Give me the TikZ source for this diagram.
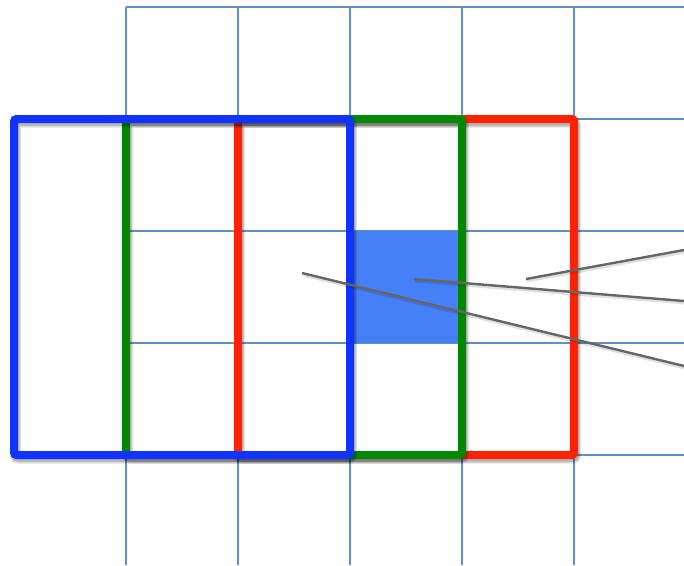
\documentclass[tikz,border=0pt]{standalone}
\usetikzlibrary{calc}
\definecolor{gridblue}{HTML}{5F8FC6}
\definecolor{boxblue}{HTML}{1133FF}
\definecolor{boxgreen}{HTML}{008800}
\definecolor{boxred}{HTML}{FF2200}
\definecolor{cellblue}{HTML}{4680F8}
\definecolor{linegray}{HTML}{666666}
\begin{document}
\begin{tikzpicture}[x=1pt,y=-1pt,
  gridline/.style={draw=gridblue, line width=2pt},
  frame/.style={rectangle, inner sep=0pt, outer sep=0pt, minimum width=336pt, minimum height=336pt, line width=8pt, rounded corners=2.5pt,
    preaction={draw=black, draw opacity=0.12, line width=11pt, transform canvas={xshift=1.5pt,yshift=-3pt}},
    preaction={draw=black, draw opacity=0.18, line width=8pt, transform canvas={xshift=1.5pt,yshift=-3pt}}},
  cellbox/.style={rectangle, inner sep=0pt, outer sep=0pt, minimum width=112pt, minimum height=112pt, fill=cellblue},
  pointer/.style={draw=linegray, line width=2.4pt,
    preaction={draw=black, draw opacity=0.12, line width=4pt, transform canvas={xshift=0.8pt,yshift=-1.5pt}}}]
\useasboundingbox (0,0) rectangle (684,565);
% grid
\foreach \x in {126,238,350,462,574} {\draw[gridline] (\x,7) -- (\x,565);}
\foreach \y in {7,119,231,343,455} {\draw[gridline] (126,\y) -- (684,\y);}
% highlighted cell
\node[cellbox] (cell) at (406,287) {};
% frames
\node[frame, draw=boxred] (redbox) at (406,287) {};
\node[frame, draw=boxgreen] (greenbox) at (294,287) {};
\node[frame, draw=boxblue] (bluebox) at (182,287) {};
% pointer lines
\coordinate (p1) at (302,273);
\coordinate (q1) at (684,366);
\coordinate (p2) at (414,279);
\coordinate (q2) at (684,301);
\coordinate (p3) at (526,279);
\coordinate (q3) at (684,250);
\draw[pointer] (p1) -- (q1);
\draw[pointer] (p2) -- (q2);
\draw[pointer] (p3) -- (q3);
\end{tikzpicture}
\end{document}
